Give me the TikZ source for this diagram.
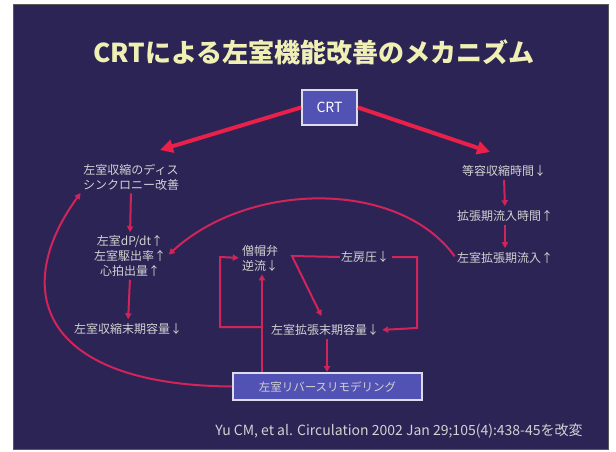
\documentclass[tikz,border=0pt]{standalone}
\usepackage{fontspec}
\setmainfont{Noto Sans CJK JP}
\usetikzlibrary{arrows.meta,calc}
\definecolor{bg}{HTML}{2B2455}
\definecolor{redA}{HTML}{E8204A}
\definecolor{redB}{HTML}{D0245A}
\definecolor{txt}{HTML}{D2D2D2}
\definecolor{ttl}{HTML}{F0F0B4}
\definecolor{boxf}{HTML}{5252B4}
\definecolor{boxd}{HTML}{DCDCEC}
\begin{document}
\begin{tikzpicture}[x=1pt,y=-1pt,
  lbl/.style={text=txt, font=\fontsize{12}{15}\selectfont, inner sep=1pt, align=center},
  thinarr/.style={draw=redB, line width=2pt, -{Triangle[length=6pt,width=6pt]}},
  bigarr/.style={draw=redA, line width=4pt, -{Triangle[length=13pt,width=13pt]}},
  bluebox/.style={draw=boxd, line width=2pt, fill=boxf, text=white, inner sep=0pt}
]
\useasboundingbox (0,0) rectangle (616,452);
\fill[white] (0,0) rectangle (616,452);
\fill[bg] (13,5) rectangle (608,449);
\draw[gray!70!black, line width=1pt] (13,5) rectangle (608,449);

% title
\node[font=\fontsize{26}{26}\selectfont\bfseries, text=ttl] (title) at (314,52) {CRTによる左室機能改善のメカニズム};

% boxes
\node[bluebox, minimum width=55pt, minimum height=35pt, font=\fontsize{14}{14}\selectfont] (crt) at (329.5,107.5) {CRT};
\node[bluebox, minimum width=189pt, minimum height=27pt, font=\fontsize{11.5}{11.5}\selectfont, text=txt] (rr) at (327.5,386.5) {左室リバースリモデリング};

% left column
\node[lbl] (d1) at (131,177) {左室収縮のディス\\シンクロニー改善};
\node[lbl] (d2) at (130,256) {左室dP/dt↑\\左室駆出率↑\\心拍出量↑};
\node[lbl] (d3) at (128,329) {左室収縮末期容量↓};

% right column
\node[lbl] (r1) at (504,171) {等容収縮時間↓};
\node[lbl] (r2) at (505,216) {拡張期流入時間↑};
\node[lbl] (r3) at (505,258) {左室拡張期流入↑};

% middle
\node[lbl, align=left] (mr) at (260,258) {僧帽弁\\逆流↓};
\node[lbl] (lap) at (365,257) {左房圧↓};
\node[lbl] (edv) at (325,330) {左室拡張末期容量↓};

% citation
\node[lbl, font=\fontsize{14}{14}\selectfont] (cite) at (399,431) {Yu CM, et al. Circulation 2002 Jan 29;105(4):438-45を改変};

% tip coordinates
\coordinate (t1) at (160,150);
\coordinate (t2) at (490,152);
\coordinate (c1) at (292,256);
\coordinate (c2) at (262,327);
\coordinate (c3) at (220,327);
\coordinate (c4) at (220,257);
\coordinate (c5) at (327,0);
\coordinate (c6) at (417,257);
\coordinate (c7) at (417,328);

% big arrows from CRT
\draw[bigarr] (crt.west) -- (t1);
\draw[bigarr] (crt.east) -- (t2);

% left column arrows
\draw[thinarr, shorten <=2pt, shorten >=2pt] (d1.south) -- (d2.north);
\draw[thinarr, shorten <=2pt, shorten >=3pt] (d2.south) -- (d3.north);

% right column arrows
\draw[thinarr, shorten <=2pt, shorten >=3pt] (r1.south) -- (r2.north);
\draw[thinarr, shorten <=2pt, shorten >=3pt] (r2.south) -- (r3.north);

% arc from right column to left column
\draw[thinarr, shorten <=2pt, shorten >=2pt] (r3.west) .. controls (400,180) and (250,180) .. (d2.east);

% big loop from reverse remodeling to dyssynchrony
\draw[thinarr, shorten >=2pt] (rr.west) .. controls (40,385) and (10,290) .. (d1.south west);

% middle loop
\draw[thinarr, shorten >=8pt] (lap.west) -- (c1) -- (edv.north);
\draw[thinarr, shorten <=2pt, shorten >=2pt] (lap.east) -- (c6) -- (c7) -- (edv.east);
\draw[thinarr, shorten >=2pt] (c2) -- (c3) -- (c4) -- (mr.west);
\draw[thinarr, shorten >=2pt] (rr.north -| c2) -- (mr.south -| c2);
\draw[thinarr, shorten <=2pt] (edv.south -| c5) -- (rr.north -| c5);
\end{tikzpicture}
\end{document}
